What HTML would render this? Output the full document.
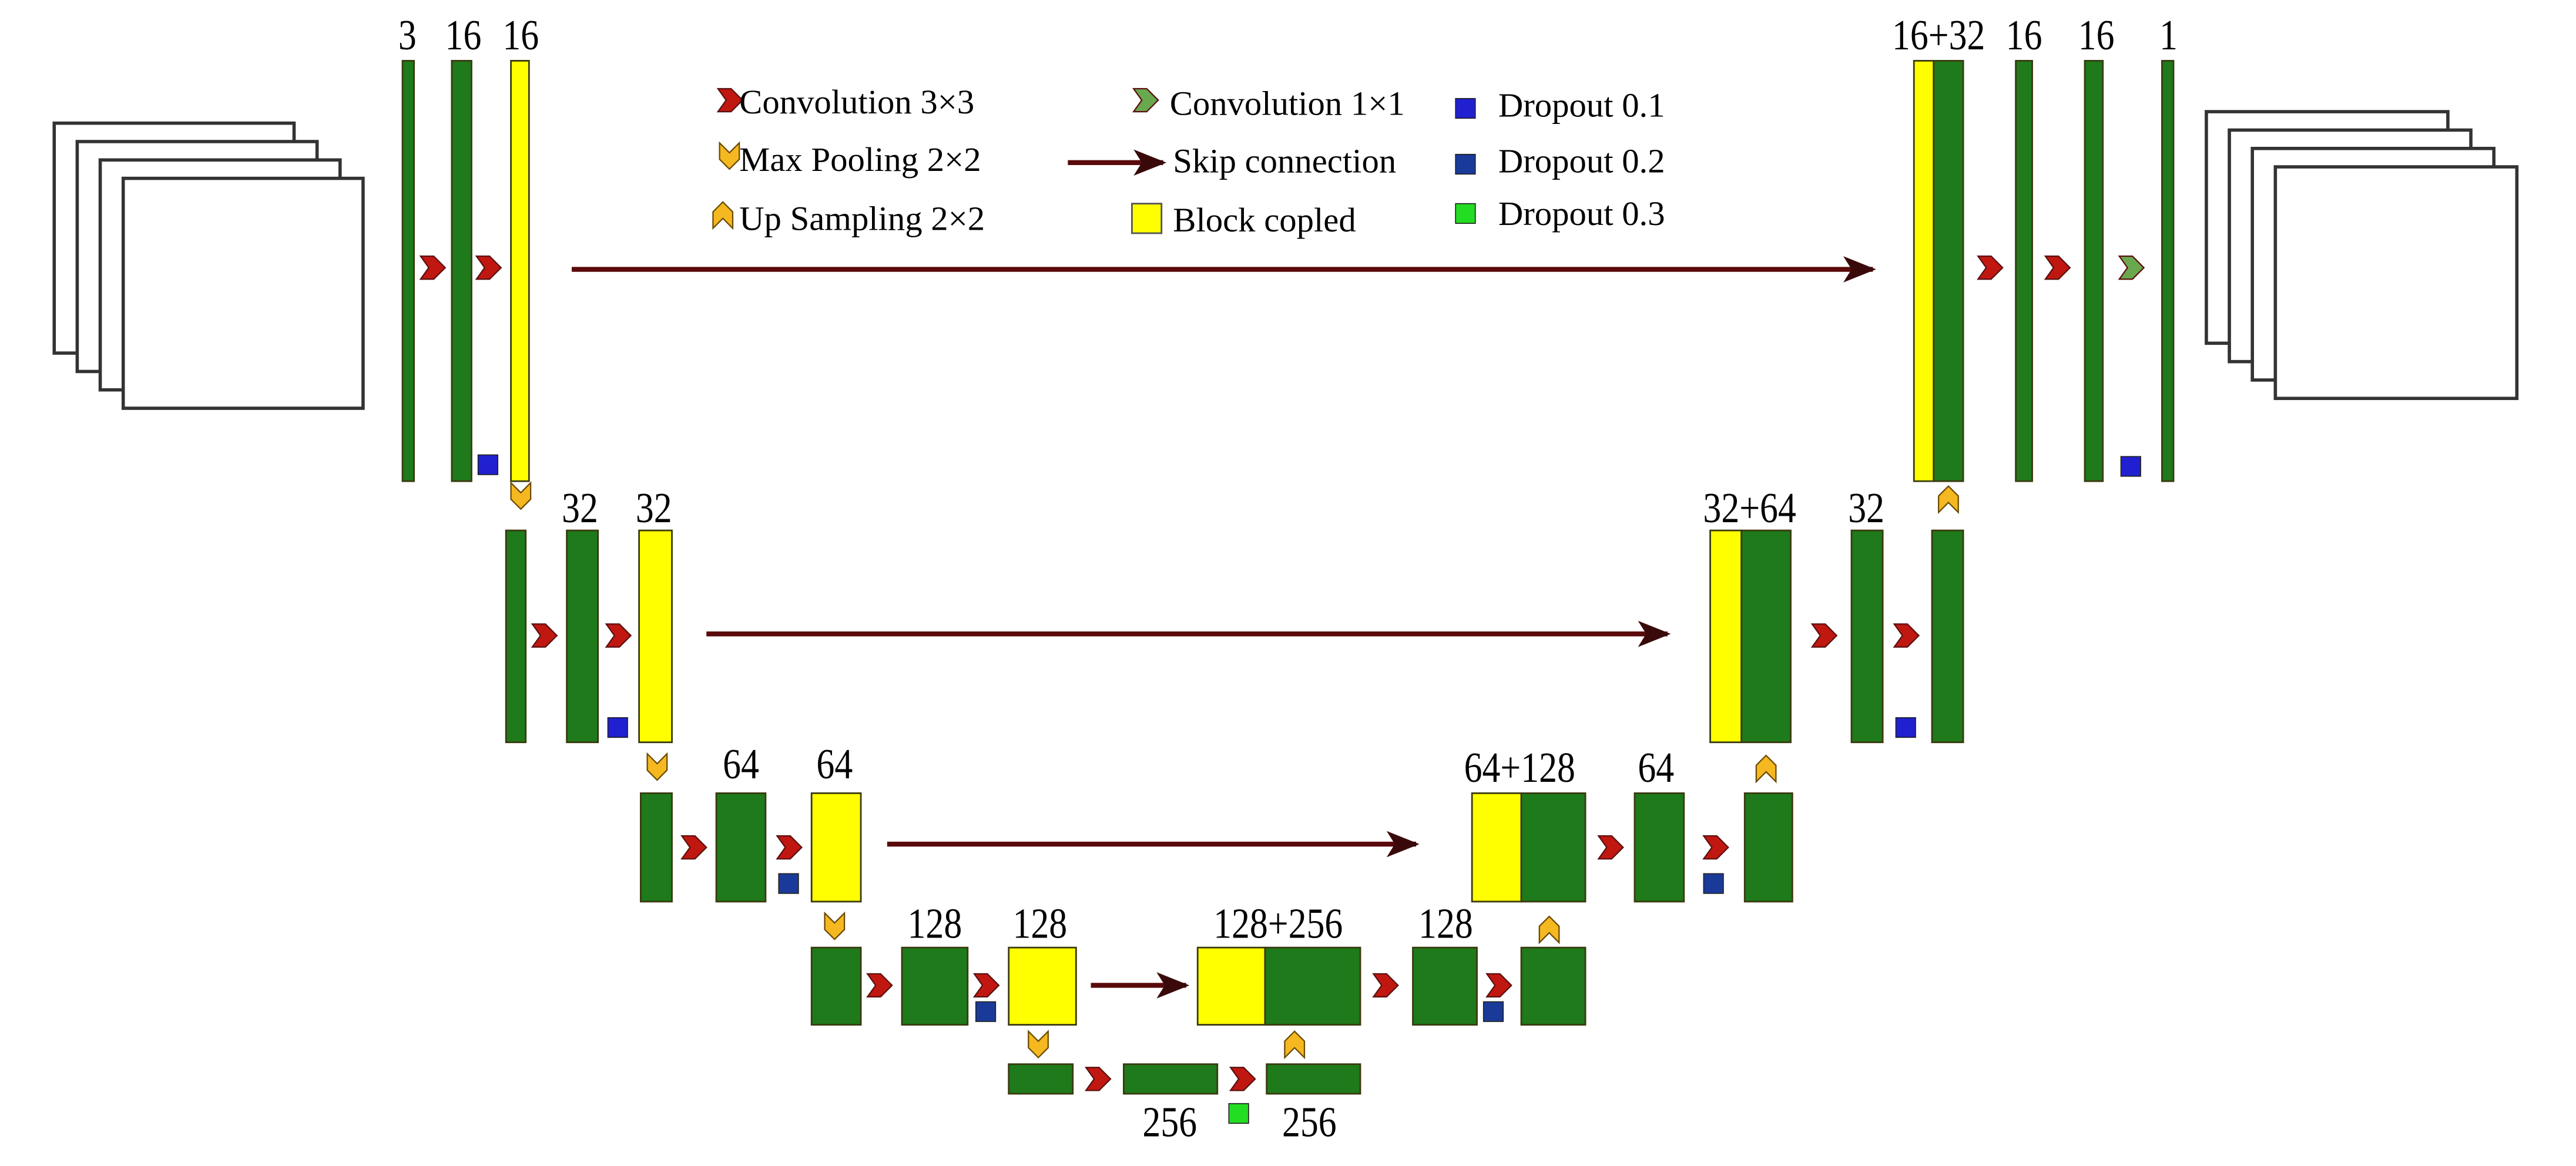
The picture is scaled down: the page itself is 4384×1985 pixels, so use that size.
<!DOCTYPE html>
<html><head><meta charset="utf-8"><style>
html,body{margin:0;padding:0;background:#fff;}
svg{display:block;}
text{font-family:"Liberation Serif",serif;fill:#000;}
</style></head><body>
<svg id="s" width="4384" height="1985" viewBox="0 0 1568 710" preserveAspectRatio="none" xmlns="http://www.w3.org/2000/svg">
<defs>
<marker id="ah" markerWidth="20" markerHeight="16" refX="18" refY="8" orient="auto" markerUnits="userSpaceOnUse"><path d="M0,0 L20,8 L0,16 L5,8 Z" fill="#3a0a0a"/></marker>
</defs>
</svg>
<script>
const NS='http://www.w3.org/2000/svg';
const svg=document.getElementById('s');
function el(tag,attrs,name){const e=document.createElementNS(NS,tag);for(const k in attrs)e.setAttribute(k,attrs[k]);


svg.appendChild(e);return e;}
function txt(x,y,s,size,anchor,name){const t=el('text',{x:x,y:y,'font-size':size,'text-anchor':anchor||'middle'},name);t.textContent=s;return t;}
function lbl(x,y,s,name){const t=txt(x,y,s,26,'middle',name);t.setAttribute('transform',`translate(${x},0) scale(0.85,1) translate(${-x},0)`);return t;}
const G='#1e7a1a',Y='#ffff00';
function block(x1,x2,y1,y2,c,name){el('rect',{x:x1,y:y1,width:x2-x1,height:y2-y1,fill:c,stroke:'#3a3a10','stroke-width':1},name);}
function conv(x,y,c,name){el('path',{d:`M${x-7},${y-7} L${x+1},${y-7} L${x+8},${y} L${x+1},${y+7} L${x-7},${y+7} L${x-2},${y} Z`,fill:c||'#c01810',stroke:'#5a1010','stroke-width':0.8},name);}
function pool(x,y,name){el('path',{d:`M${x-6},${y-8} L${x},${y-2} L${x+6},${y-8} L${x+6},${y+2} L${x},${y+8} L${x-6},${y+2} Z`,fill:'#f5b820',stroke:'#6a4a00','stroke-width':0.8},name);}
function up(x,y,name){el('path',{d:`M${x-6},${y+8} L${x},${y+2} L${x+6},${y+8} L${x+6},${y-2} L${x},${y-8} L${x-6},${y-2} Z`,fill:'#f5b820',stroke:'#6a4a00','stroke-width':0.8},name);}
function drop(x,y,c,name){el('rect',{x:x,y:y,width:12,height:12,fill:c,stroke:'#222','stroke-width':0.6},name);}
function skip(x1,x2,y,name){el('line',{x1:x1,y1:y,x2:x2,y2:y,stroke:'#5a0a0a','stroke-width':3,'marker-end':'url(#ah)'},name);}
function stack(x,y,w,h,d,name){for(let i=0;i<4;i++){el('rect',{x:x+i*d,y:y+i*d*0.8,width:w,height:h,fill:'#fff',stroke:'#333','stroke-width':2},name+'-'+i);}}
const B1='#2020d0',B2='#1a3a9a',GD='#22dd22';
stack(33,75,146,140,14,'input-image');
stack(1343,68,147,141,14,'output-image');
conv(444,61,null,'legend-conv3-icon');txt(450,69,'Convolution 3×3',21,'start','legend-conv3');
pool(444,95,'legend-pool-icon');txt(450,104,'Max Pooling 2×2',21,'start','legend-pool');
up(440,131,'legend-up-icon');txt(450,140,'Up Sampling 2×2',21,'start','legend-up');
conv(697,61,'#6aa84f','legend-conv1-icon');txt(712,70,'Convolution 1×1',21,'start','legend-conv1');
skip(650,708,99,'legend-skip-icon');txt(714,105,'Skip connection',21,'start','legend-skip');
el('rect',{x:689,y:124,width:18,height:18,fill:Y,stroke:'#555'},'legend-block-icon');txt(714,141,'Block copled',21,'start','legend-block');
drop(886,60,B1,'legend-d01-icon');txt(912,71,'Dropout 0.1',21,'start','legend-d01');
drop(886,94,B2,'legend-d02-icon');txt(912,105,'Dropout 0.2',21,'start','legend-d02');
drop(886,124,GD,'legend-d03-icon');txt(912,137,'Dropout 0.3',21,'start','legend-d03');
block(245,252,37,293,G,'enc1-in');block(275,287,37,293,G,'enc1-a');block(311,322,37,293,Y,'enc1-b');
lbl(248,30,'3','label-3');lbl(282,30,'16','label-16a');lbl(317,30,'16','label-16b');
conv(263,163,null,'conv-1a');conv(297,163,null,'conv-1b');drop(291,277,B1,'drop-1');pool(317,302,'pool-1');
skip(348,1140,164,'skip-1');
block(1165,1177,37,293,Y,'dec1-copy');block(1177,1195,37,293,G,'dec1-up');block(1227,1237,37,293,G,'dec1-a');block(1269,1280,37,293,G,'dec1-b');block(1316,1323,37,293,G,'output-bar');
lbl(1180,30,'16+32','label-16+32');lbl(1232,30,'16','label-16c');lbl(1276,30,'16','label-16d');lbl(1320,30,'1','label-1');
conv(1211,163,null,'conv-d1a');conv(1252,163,null,'conv-d1b');conv(1297,163,'#6aa84f','conv-1x1');drop(1291,278,B1,'drop-d1');up(1186,304,'up-1');
block(308,320,323,452,G,'enc2-in');block(345,364,323,452,G,'enc2-a');block(389,409,323,452,Y,'enc2-b');
lbl(353,318,'32','label-32a');lbl(398,318,'32','label-32b');
conv(331,387,null,'conv-2a');conv(376,387,null,'conv-2b');drop(370,437,B1,'drop-2');pool(400,467,'pool-2');
skip(430,1015,386,'skip-2');
block(1041,1060,323,452,Y,'dec2-copy');block(1060,1090,323,452,G,'dec2-up');block(1127,1146,323,452,G,'dec2-a');block(1176,1195,323,452,G,'dec2-b');
lbl(1065,318,'32+64','label-32+64');lbl(1136,318,'32','label-32c');
conv(1110,387,null,'conv-d2a');conv(1160,387,null,'conv-d2b');drop(1154,437,B1,'drop-d2');up(1075,468,'up-2');
block(390,409,483,549,G,'enc3-in');block(436,466,483,549,G,'enc3-a');block(494,524,483,549,Y,'enc3-b');
lbl(451,474,'64','label-64a');lbl(508,474,'64','label-64b');
conv(422,516,null,'conv-3a');conv(480,516,null,'conv-3b');drop(474,532,B2,'drop-3');pool(508,564,'pool-3');
skip(540,862,514,'skip-3');
block(896,926,483,549,Y,'dec3-copy');block(926,965,483,549,G,'dec3-up');block(995,1025,483,549,G,'dec3-a');block(1062,1091,483,549,G,'dec3-b');
lbl(925,476,'64+128','label-64+128');lbl(1008,476,'64','label-64c');
conv(980,516,null,'conv-d3a');conv(1044,516,null,'conv-d3b');drop(1037,532,B2,'drop-d3');up(943,566,'up-3');
block(494,524,577,624,G,'enc4-in');block(549,589,577,624,G,'enc4-a');block(614,655,577,624,Y,'enc4-b');
lbl(569,571,'128','label-128a');lbl(633,571,'128','label-128b');
conv(535,600,null,'conv-4a');conv(600,600,null,'conv-4b');drop(594,610,B2,'drop-4');pool(632,636,'pool-4');
skip(664,722,600,'skip-4');
block(729,770,577,624,Y,'dec4-copy');block(770,828,577,624,G,'dec4-up');block(860,899,577,624,G,'dec4-a');block(926,965,577,624,G,'dec4-b');
lbl(778,571,'128+256','label-128+256');lbl(880,571,'128','label-128c');
conv(843,600,null,'conv-d4a');conv(912,600,null,'conv-d4b');drop(903,610,B2,'drop-d4');up(788,636,'up-4');
block(614,653,648,666,G,'bottleneck-in');block(684,741,648,666,G,'bottleneck-a');block(771,828,648,666,G,'bottleneck-b');
conv(668,657,null,'conv-5a');conv(756,657,null,'conv-5b');drop(748,672,GD,'drop-5');
lbl(712,692,'256','label-256a');lbl(797,692,'256','label-256b');
</script>
</body></html>
